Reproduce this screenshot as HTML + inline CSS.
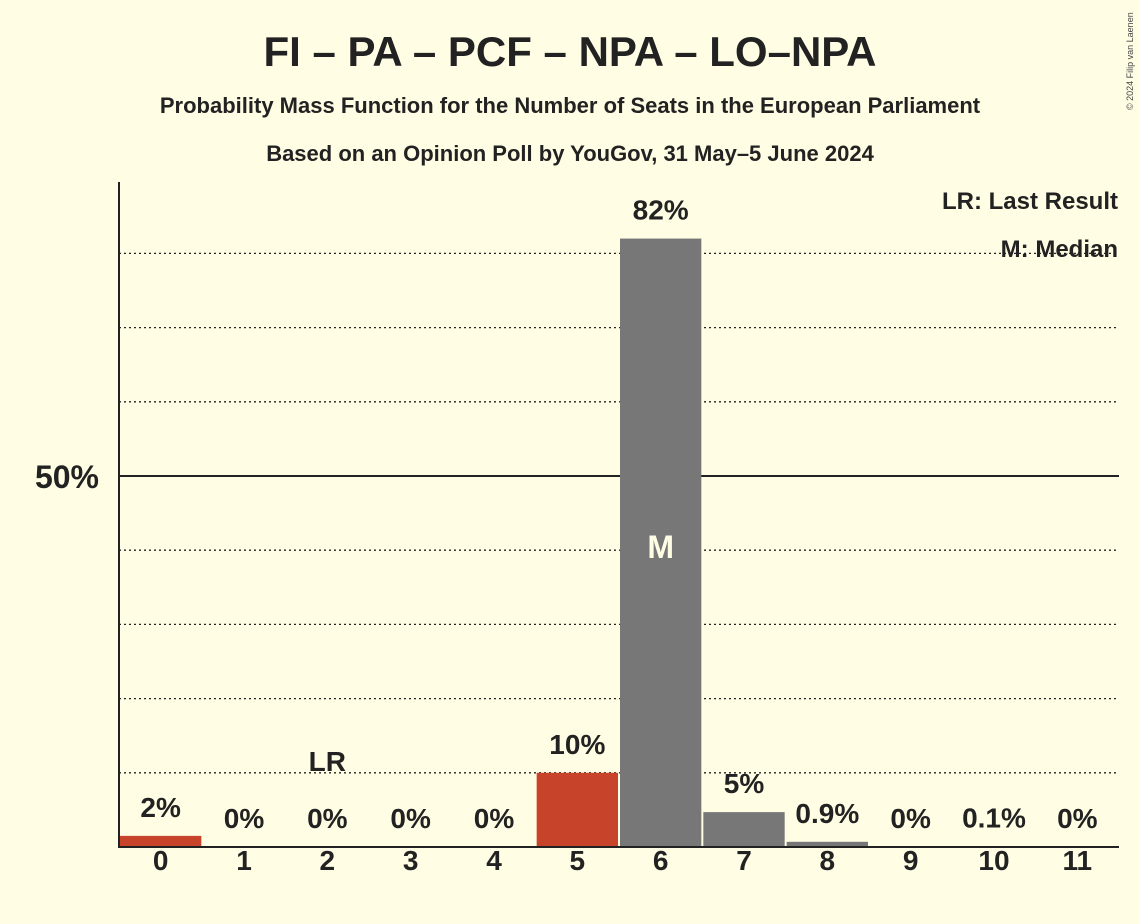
<!DOCTYPE html>
<html><head><meta charset="utf-8"><style>
body{margin:0;background:#FFFEE4;}
svg{display:block;font-family:"Liberation Sans",sans-serif;}
</style></head><body>
<svg id="chart" width="1139" height="924">
<rect width="1139" height="924" fill="#FFFEE4"/>
<text x="570" y="66" text-anchor="middle" font-size="42" font-weight="bold" fill="#222">FI – PA – PCF – NPA – LO–NPA</text>
<text x="570" y="113" text-anchor="middle" font-size="22" font-weight="bold" fill="#222">Probability Mass Function for the Number of Seats in the European Parliament</text>
<text x="570" y="161" text-anchor="middle" font-size="22" font-weight="bold" fill="#222">Based on an Opinion Poll by YouGov, 31 May–5 June 2024</text>
<text x="1133" y="110" font-size="9" fill="#444" transform="rotate(-90 1133 110)">© 2024 Filip van Laenen</text>
<g id="grid"></g>
<g id="bars"></g>
<line x1="119" y1="182" x2="119" y2="848" stroke="#222" stroke-width="2"/>
<line x1="118" y1="847" x2="1119" y2="847" stroke="#222" stroke-width="2"/>
<text x="99" y="488" text-anchor="end" font-size="32" font-weight="bold" fill="#222">50%</text>
<text x="1118" y="209" text-anchor="end" font-size="24" font-weight="bold" fill="#222">LR: Last Result</text>
<text x="1118" y="257" text-anchor="end" font-size="24" font-weight="bold" fill="#222">M: Median</text>
</svg>
<script>
const categories=[0,1,2,3,4,5,6,7,8,9,10,11];
const values=[1.5,0,0,0,0,10,82,4.7,0.7,0,0.1,0];
const labels=["2%","0%","0%","0%","0%","10%","82%","5%","0.9%","0%","0.1%","0%"];
const red=[0,5];
const lastResult=2;
const median=6;
const gridTicks=[10,20,30,40,60,70,80];
const ns="http://www.w3.org/2000/svg";
const x0=119,x1=1119,base=847,per=7.42;
const slot=(x1-x0)/categories.length;
const y=v=>base-v*per;
const xs=i=>x0+i*slot;
const grid=document.getElementById('grid'),bars=document.getElementById('bars');
function mk(tag,attrs,parent){const e=document.createElementNS(ns,tag);for(const k in attrs)e.setAttribute(k,attrs[k]);parent.appendChild(e);return e;}
gridTicks.forEach(t=>{const l=mk('line',{x1:x0,x2:x1,y1:y(t),y2:y(t),stroke:'#222','stroke-width':1.3,'stroke-dasharray':'2,3'},grid);

});
const l50=mk('line',{x1:x0,x2:x1,y1:y(50),y2:y(50),stroke:'#222','stroke-width':2},grid);


categories.forEach((c,i)=>{
 const v=values[i],bx=xs(i)+1,bw=slot-2;
 if(v>0){const r=mk('rect',{x:bx,y:y(v),width:bw,height:base-y(v),fill:red.includes(i)?'#C7432A':'#777777'},bars);
 
 }
 const cx=xs(i)+slot/2;
 const t=mk('text',{x:cx,y:Math.min(y(v),base)-19,'text-anchor':'middle','font-size':28,'font-weight':'bold',fill:'#222'},bars);t.textContent=labels[i];
 
 
 const xl=mk('text',{x:cx,y:870,'text-anchor':'middle','font-size':28,'font-weight':'bold',fill:'#222'},bars);xl.textContent=c;
 
 
 if(i===lastResult){const lr=mk('text',{x:cx,y:Math.min(y(v),base)-76,'text-anchor':'middle','font-size':28,'font-weight':'bold',fill:'#222'},bars);lr.textContent='LR';
 
 }
 if(i===median){const m=mk('text',{x:cx,y:(y(v)+base)/2+15,'text-anchor':'middle','font-size':32,'font-weight':'bold',fill:'#FFFEE4'},bars);m.textContent='M';
 
 }
});
</script>
</body></html>
